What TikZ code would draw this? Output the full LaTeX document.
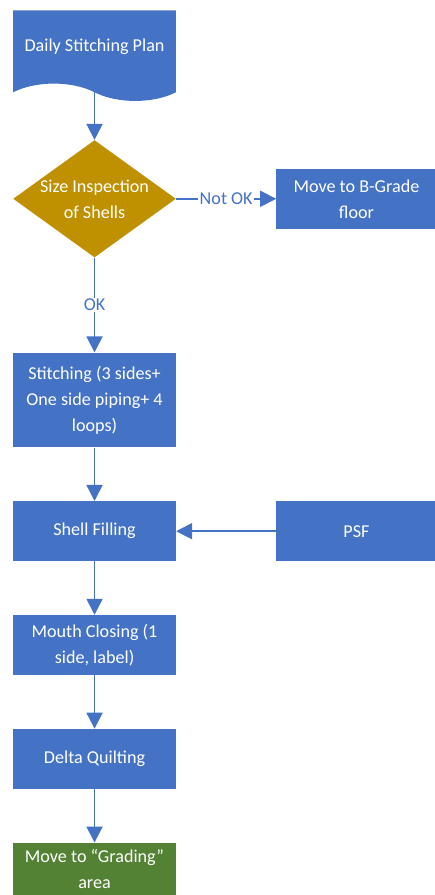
\documentclass[tikz,border=0pt]{standalone}
\usepackage{fontspec}
\setmainfont{Carlito}
\usetikzlibrary{positioning,shapes.geometric,shapes.symbols,arrows.meta}

\definecolor{boxblue}{HTML}{4472C4}
\definecolor{decgold}{HTML}{BF9000}
\definecolor{endgreen}{HTML}{548235}

\tikzset{
  box/.style={rectangle, fill=boxblue, text=white, minimum width=122pt, minimum height=45pt, align=center, inner sep=2pt},
  sidebox/.style={box, minimum width=120pt},
  planshape/.style={tape, tape bend top=none, tape bend bottom=out and in, tape bend height=13pt, fill=boxblue, text=white, minimum width=122pt, minimum height=68pt, align=center, inner sep=0pt},
  decision/.style={diamond, aspect=1.39, fill=decgold, text=white, minimum width=122pt, minimum height=88pt, align=center, inner sep=0pt},
  link/.style={draw=boxblue, line width=1.4pt, -{Triangle[width=12pt,length=12pt]}},
  lbl/.style={fill=white, text=boxblue, inner sep=1pt}
}

\begin{document}
\begin{tikzpicture}[node distance=40pt, font=\fontsize{13.6}{19.5}\selectfont]
        \useasboundingbox (0,0) rectangle (326.25pt,-671.25pt);

        % Plan
        \node[planshape, anchor=north] (plan) at (70.9pt,-7.5pt) {Daily Stitching Plan};

        % Inspection
        \node[decision, below=42pt of plan] (inspect) {Size Inspection\\of Shells};

        % B-Grade
        \node[sidebox, right=75pt of inspect] (bgrade) {Move to B-Grade\\floor};

        % Stitching
        \node[box, minimum height=71pt, below=71pt of inspect] (stitch) {Stitching (3 sides+\\One side piping+ 4\\loops)};

        % Filling
        \node[box, below=40pt of stitch] (filling) {Shell Filling};

        % PSF
        \node[sidebox, right=75pt of filling] (psf) {PSF};

        % Mouth closing
        \node[box, below=40pt of filling] (mouth) {Mouth Closing (1\\side, label)};

        % Quilting
        \node[box, below=40pt of mouth] (quilt) {Delta Quilting};

        % Grading
        \node[box, fill=endgreen, minimum height=40pt, below=40pt of quilt] (grading) {Move to ``Grading''\\area};

        % Connections
        \draw[link] (plan.south) -- (inspect.north);
        \draw[link] (inspect) -- node[lbl] {Not OK} (bgrade);
        \draw[link] (inspect) -- node[lbl] {OK} (stitch);
        \draw[link] (stitch) -- (filling);
        \draw[link] (psf) -- (filling);
        \draw[link] (filling) -- (mouth);
        \draw[link] (mouth) -- (quilt);
        \draw[link] (quilt) -- (grading);
\end{tikzpicture}
\end{document}
